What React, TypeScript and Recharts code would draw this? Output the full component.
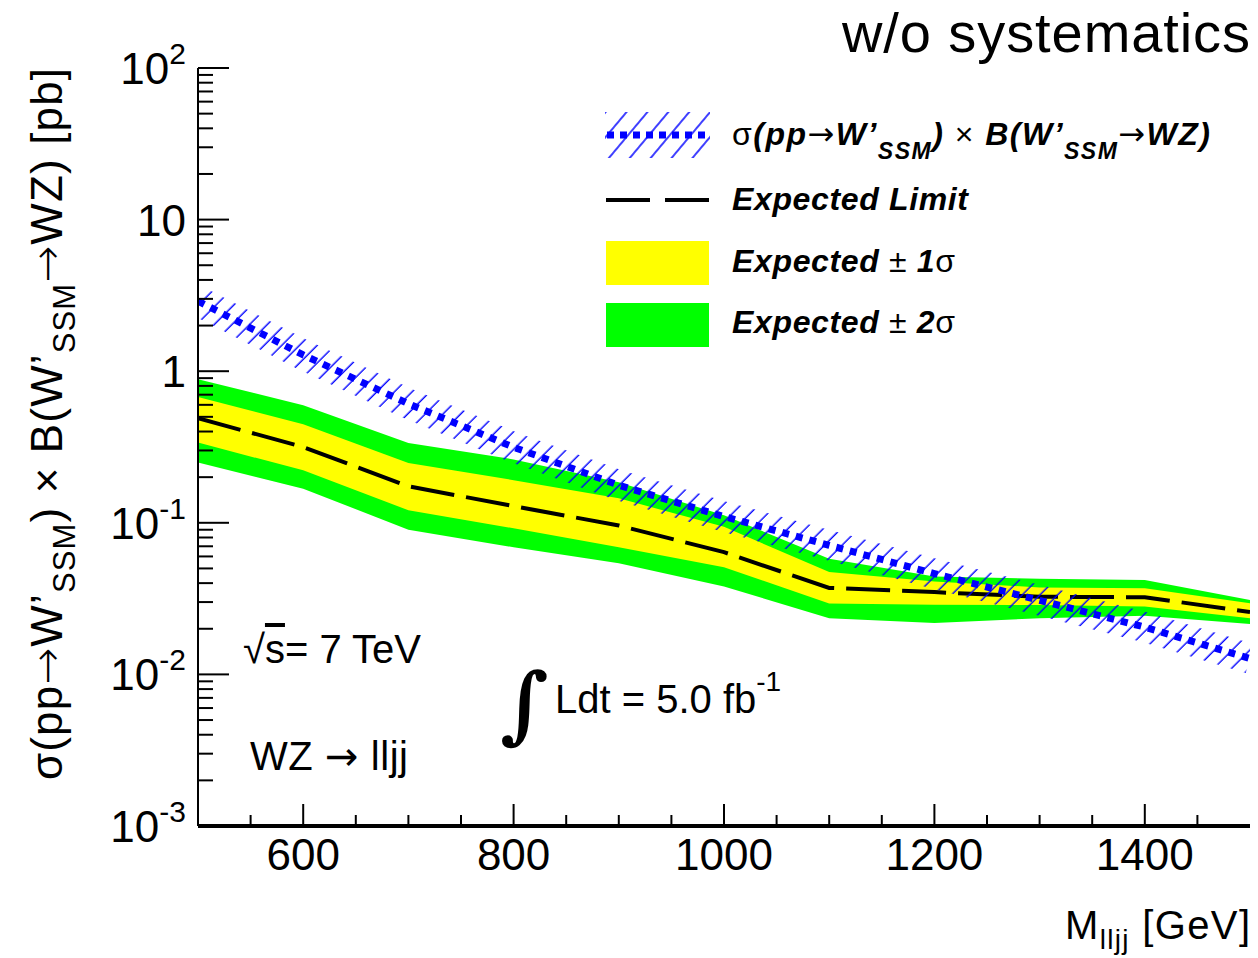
import React from 'react';
import { ComposedChart, Area, Line, XAxis, YAxis } from 'recharts';

// W' -> WZ -> lljj, expected limit without systematics
const MASS = [500, 600, 700, 800, 900, 1000, 1100, 1200, 1300, 1400, 1500];
const THEORY = [2.9, 1.28, 0.61, 0.315, 0.177, 0.11, 0.071, 0.0462, 0.0308, 0.0205, 0.0127];
const EXPECTED = [0.49, 0.316, 0.174, 0.129, 0.096, 0.064, 0.0372, 0.0349, 0.0325, 0.0323, 0.0258];
const PLUS_1 = [0.676, 0.447, 0.248, 0.191, 0.145, 0.094, 0.0473, 0.041, 0.0375, 0.037, 0.0295];
const MINUS_1 = [0.338, 0.222, 0.121, 0.092, 0.069, 0.051, 0.0294, 0.0288, 0.0287, 0.028, 0.0235];
const PLUS_2 = [0.885, 0.597, 0.336, 0.262, 0.185, 0.112, 0.058, 0.0443, 0.0427, 0.042, 0.031];
const MINUS_2 = [0.25, 0.168, 0.09, 0.069, 0.054, 0.038, 0.0235, 0.0218, 0.0235, 0.0244, 0.0215];

const X_TICKS = [550, 600, 650, 700, 750, 800, 850, 900, 950, 1000, 1050, 1100, 1150, 1200, 1250, 1300, 1350, 1400, 1450];
const X_LABELS = [600, 800, 1000, 1200, 1400];
const Y_DECADES = [0.001, 0.01, 0.1, 1, 10, 100];
const Y_BASE = ['10', '10', '10', '1', '10', '10'];
const Y_EXP = ['-3', '-2', '-1', '', '', '2'];
const Y_MINOR = [2, 3, 4, 5, 6, 7, 8, 9];

const Y_TICKS = Y_DECADES.flatMap((d, i) =>
  i < Y_DECADES.length - 1 ? [d, ...Y_MINOR.map((k) => d * k)] : [d]
);

const rows = MASS.map((m, i) => ({
  mass: m,
  theory: THEORY[i],
  expected: EXPECTED[i],
  band1: [MINUS_1[i], PLUS_1[i]],
  band2: [MINUS_2[i], PLUS_2[i]],
}));

const SANS = '"Liberation Sans", Arial, Helvetica, sans-serif';
const ARROW = '"DejaVu Sans", sans-serif';
const BLUE = '#0000ff';

const decadeIndex = (v: number) => Y_DECADES.findIndex((d) => Math.abs(v / d - 1) < 1e-6);

const BottomTick = (props: any) => {
  const { x, y, payload } = props;
  const major = X_LABELS.includes(payload.value);
  return (
    <g>
      <line x1={x} x2={x} y1={y} y2={y - (major ? 22 : 11)} stroke="#000" strokeWidth={2} />
      {major && (
        <text x={x} y={y + 44} textAnchor="middle" fontSize={44} fontFamily={SANS} fill="#000">
          {payload.value}
        </text>
      )}
    </g>
  );
};

const TopTick = (props: any) => {
  const { x, y, payload } = props;
  const major = X_LABELS.includes(payload.value);
  return <line x1={x} x2={x} y1={y} y2={y + (major ? 22 : 11)} stroke="#000" strokeWidth={2} />;
};

const LeftTick = (props: any) => {
  const { x, y, payload } = props;
  const i = decadeIndex(payload.value);
  return (
    <g>
      <line x1={x} x2={x + (i >= 0 ? 31 : 15)} y1={y} y2={y} stroke="#000" strokeWidth={2} />
      {i >= 0 && (
        <text x={186} y={y + 16} textAnchor="end" fontSize={44} fontFamily={SANS} fill="#000">
          {Y_BASE[i]}
          {Y_EXP[i] && (
            <tspan dy={-20} fontSize={30}>
              {Y_EXP[i]}
            </tspan>
          )}
        </text>
      )}
    </g>
  );
};

const RightTick = (props: any) => {
  const { x, y, payload } = props;
  const major = decadeIndex(payload.value) >= 0;
  return <line x1={x} x2={x - (major ? 31 : 15)} y1={y} y2={y} stroke="#000" strokeWidth={2} />;
};

const Overlay = () => (
  <svg
    width={1258}
    height={958}
    style={{ position: 'absolute', left: 0, top: 0, pointerEvents: 'none' }}
    fontFamily={SANS}
  >
    <defs>
      <pattern id="legendHatch" patternUnits="userSpaceOnUse" width={16} height={16} patternTransform="rotate(40)">
        <line x1={8} y1={0} x2={8} y2={16} stroke={BLUE} strokeWidth={1.5} />
      </pattern>
    </defs>

    <text x={1250} y={52} textAnchor="end" fontSize={56} textLength={408}>
      w/o systematics
    </text>

    {/* y axis title */}
    <text transform="translate(62,68) rotate(-90)" textAnchor="end" fontSize={44} textLength={712} lengthAdjust="spacing">
      σ(pp<tspan fontFamily={ARROW} fontWeight="200">→</tspan>W’
      <tspan fontSize={31} dy={13}>SSM</tspan>
      <tspan dy={-13}>) × B(W’</tspan>
      <tspan fontSize={31} dy={13}>SSM</tspan>
      <tspan dy={-13} fontFamily={ARROW} fontWeight="200">→</tspan>
      <tspan>WZ) [pb]</tspan>
    </text>

    {/* x axis title */}
    <text x={1250} y={939} textAnchor="end" fontSize={40} textLength={185}>
      M<tspan fontSize={28} dy={10}>lljj</tspan>
      <tspan dy={-10}> [GeV]</tspan>
    </text>

    {/* annotations */}
    <text x={243} y={663} fontSize={40}>
      √<tspan textDecoration="overline">s</tspan>= 7 TeV
    </text>
    <text x={250} y={770} fontSize={40} textLength={158}>
      WZ <tspan fontFamily={ARROW}>→</tspan> lljj
    </text>
    <text x={500} y={733} fontSize={84} fontWeight="bold" fontFamily='"DejaVu Serif", "Liberation Serif", serif'>
      ∫
    </text>
    <text x={555} y={713} fontSize={40}>
      Ldt = 5.0 fb<tspan dy={-22} fontSize={28}>-1</tspan>
    </text>

    {/* legend */}
    <rect x={605} y={112} width={105} height={46} fill="url(#legendHatch)" />
    <line x1={607} x2={708} y1={135} y2={135} stroke={BLUE} strokeWidth={7} strokeDasharray="7 6" />
    <text x={732} y={145} fontSize={32} fontWeight="bold" fontStyle="italic" textLength={478}>
      <tspan fontWeight="normal" fontStyle="normal">σ</tspan>(pp
      <tspan fontFamily={ARROW} fontWeight="normal" fontStyle="normal">→</tspan>W’
      <tspan dy={14} fontSize={23}>SSM</tspan>
      <tspan dy={-14}>) </tspan>
      <tspan fontWeight="normal" fontStyle="normal">×</tspan> B(W’
      <tspan dy={14} fontSize={23}>SSM</tspan>
      <tspan dy={-14} fontFamily={ARROW} fontWeight="normal" fontStyle="normal">→</tspan>
      <tspan>WZ)</tspan>
    </text>

    <line x1={606} x2={650} y1={200} y2={200} stroke="#000" strokeWidth={4} />
    <line x1={665} x2={709} y1={200} y2={200} stroke="#000" strokeWidth={4} />
    <text x={732} y={210} fontSize={32} fontWeight="bold" fontStyle="italic" textLength={236}>
      Expected Limit
    </text>

    <rect x={606} y={241} width={103} height={44} fill="#ffff00" />
    <text x={732} y={272} fontSize={32} fontWeight="bold" fontStyle="italic" textLength={223}>
      Expected <tspan fontWeight="normal" fontStyle="normal">±</tspan> 1
      <tspan fontWeight="normal" fontStyle="normal">σ</tspan>
    </text>

    <rect x={606} y={303} width={103} height={44} fill="#00ff00" />
    <text x={732} y={333} fontSize={32} fontWeight="bold" fontStyle="italic" textLength={223}>
      Expected <tspan fontWeight="normal" fontStyle="normal">±</tspan> 2
      <tspan fontWeight="normal" fontStyle="normal">σ</tspan>
    </text>
  </svg>
);

export default function App() {
  return (
    <div style={{ position: 'absolute', left: 0, top: 0, width: 1258, height: 958, background: '#fff' }}>
      <ComposedChart width={1258} height={958} data={rows} margin={{ top: 68, right: 8, left: 0, bottom: 0 }}>
        <defs>
          <pattern id="theoryHatch" patternUnits="userSpaceOnUse" width={12.5} height={12.5} patternTransform="rotate(45)">
            <line x1={6} y1={0} x2={6} y2={12.5} stroke={BLUE} strokeWidth={1.4} />
          </pattern>
        </defs>
        <XAxis
          xAxisId="b"
          dataKey="mass"
          type="number"
          domain={[500, 1500]}
          ticks={X_TICKS}
          interval={0}
          height={132}
          tickSize={0}
          tickMargin={0}
          tickLine={false}
          tick={<BottomTick />}
          axisLine={{ stroke: '#000', strokeWidth: 4 }}
          allowDataOverflow
        />
        <XAxis
          xAxisId="t"
          orientation="top"
          type="number"
          domain={[500, 1500]}
          ticks={X_TICKS}
          interval={0}
          height={0}
          tickSize={0}
          tickMargin={0}
          tickLine={false}
          tick={<TopTick />}
          axisLine={{ stroke: '#000', strokeWidth: 2 }}
        />
        <YAxis
          yAxisId="l"
          type="number"
          scale="log"
          domain={[0.001, 100]}
          ticks={Y_TICKS}
          interval={0}
          width={198}
          tickSize={0}
          tickMargin={0}
          tickLine={false}
          tick={<LeftTick />}
          axisLine={{ stroke: '#000', strokeWidth: 2 }}
          allowDataOverflow
        />
        <YAxis
          yAxisId="r"
          orientation="right"
          type="number"
          scale="log"
          domain={[0.001, 100]}
          ticks={Y_TICKS}
          interval={0}
          width={0}
          tickSize={0}
          tickMargin={0}
          tickLine={false}
          tick={<RightTick />}
          axisLine={{ stroke: '#000', strokeWidth: 2 }}
        />
        <Area xAxisId="b" yAxisId="l" type="linear" dataKey="band2" fill="#00ff00" fillOpacity={1} stroke="none" isAnimationActive={false} activeDot={false} />
        <Area xAxisId="b" yAxisId="l" type="linear" dataKey="band1" fill="#ffff00" fillOpacity={1} stroke="none" isAnimationActive={false} activeDot={false} />
        <Line xAxisId="b" yAxisId="l" type="linear" dataKey="expected" stroke="#000" strokeWidth={4} strokeDasharray="44 12" dot={false} activeDot={false} isAnimationActive={false} />
        <Line xAxisId="b" yAxisId="l" type="linear" dataKey="theory" stroke="url(#theoryHatch)" strokeWidth={30} dot={false} activeDot={false} isAnimationActive={false} />
        <Line xAxisId="b" yAxisId="l" type="linear" dataKey="theory" stroke={BLUE} strokeWidth={7} strokeDasharray="7 7" dot={false} activeDot={false} isAnimationActive={false} />
      </ComposedChart>
      <Overlay />
    </div>
  );
}
